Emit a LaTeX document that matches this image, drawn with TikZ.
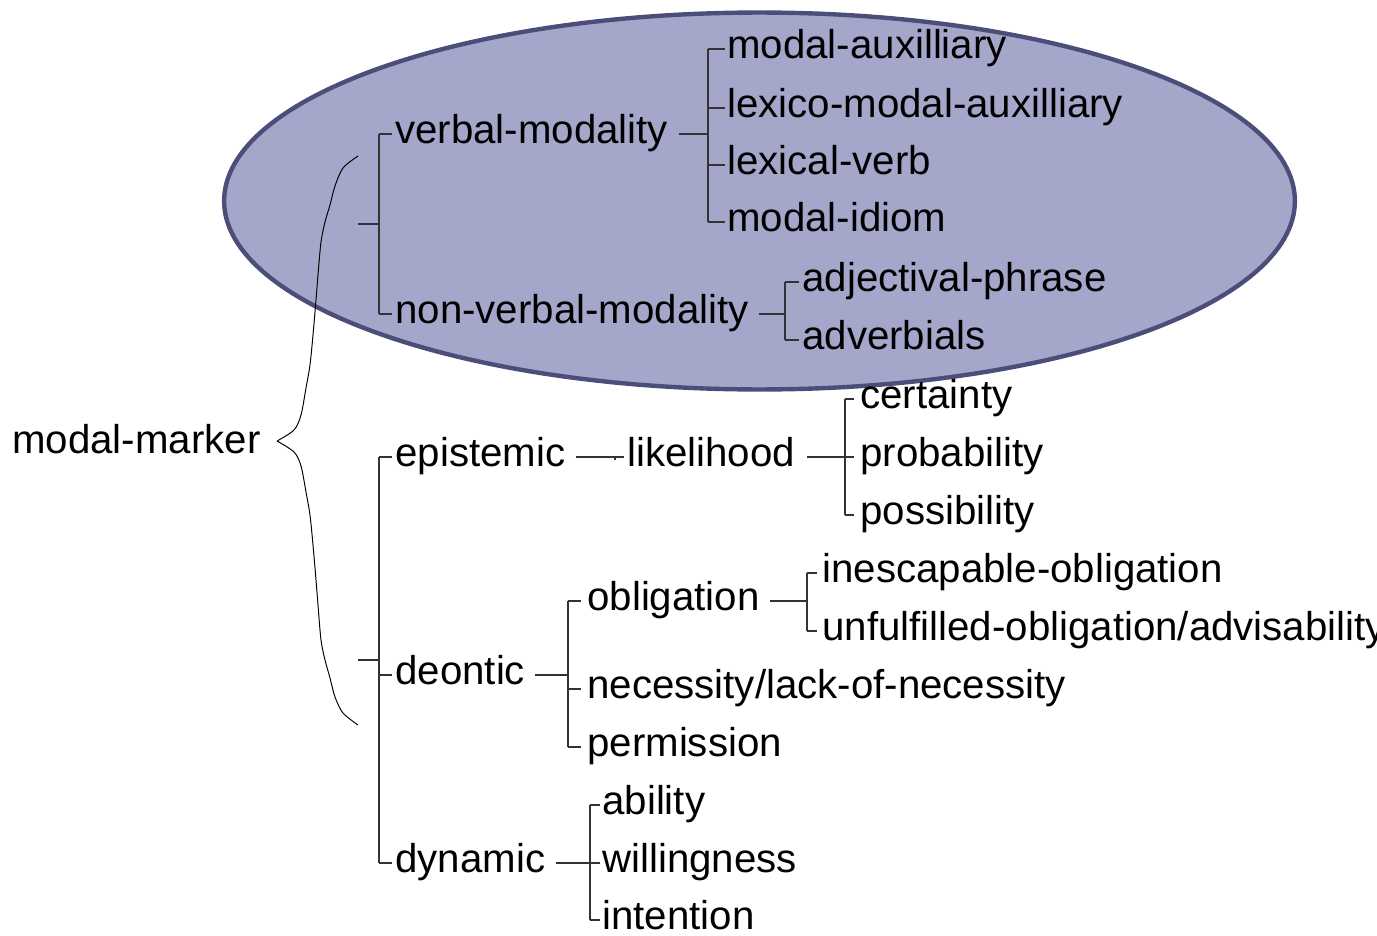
\documentclass[tikz,border=0pt]{standalone}
\usepackage{fontspec}
\setmainfont{Liberation Sans}
\usetikzlibrary{calc}
\definecolor{ellfill}{RGB}{164,166,202}
\definecolor{elldraw}{RGB}{76,78,122}
\begin{document}
\begin{tikzpicture}[x=0.02cm,y=-0.02cm,
  lbl/.style={anchor=west, inner sep=0pt, text height=10.6pt, text depth=0pt,
    font=\fontsize{22.9pt}{26pt}\selectfont},
  conn/.style={draw=black!80, line width=0.7pt},
  bracecurve/.style={draw=black, line width=0.55pt}]
\useasboundingbox (0,0) rectangle (1377,936);
% ellipse
\draw[fill=ellfill, draw=elldraw, line width=2.5pt] (759.5,201) ellipse [x radius=10.71cm, y radius=3.77cm];
% nodes
\node[lbl] (mm) at (12,444) {modal-marker};
\node[lbl] (vm) at (395,134) {verbal-modality};
\node[lbl] (nvm) at (395,314) {non-verbal-modality};
\node[lbl] (ma) at (727,49) {modal-auxilliary};
\node[lbl] (lma) at (727,108) {lexico-modal-auxilliary};
\node[lbl] (lv) at (727,165) {lexical-verb};
\node[lbl] (mi) at (727,222) {modal-idiom};
\node[lbl] (ap) at (802,282) {adjectival-phrase};
\node[lbl] (adv) at (802,340) {adverbials};
\node[lbl] (ep) at (395,457) {epistemic};
\node[lbl] (lh) at (627,457) {likelihood};
\node[lbl] (ce) at (860,399) {certainty};
\node[lbl] (pr) at (860,457) {probability};
\node[lbl] (po) at (860,515) {possibility};
\node[lbl] (de) at (395,675) {deontic};
\node[lbl] (ob) at (587,601) {obligation};
\node[lbl] (io) at (822,573) {inescapable-obligation};
\node[lbl] (uo) at (822,631) {unfulfilled-obligation/advisability};
\node[lbl] (ne) at (587,689) {necessity/lack-of-necessity};
\node[lbl] (pe) at (587,747) {permission};
\node[lbl] (dy) at (395,863) {dynamic};
\node[lbl] (ab) at (602,805) {ability};
\node[lbl] (wi) at (602,863) {willingness};
\node[lbl] (in) at (602,920) {intention};
% vertical bracket positions
\coordinate (vr) at (379,0);
\coordinate (vvm) at (708,0);
\coordinate (vnvm) at (785,0);
\coordinate (vep) at (615,0);
\coordinate (vlh) at (845,0);
\coordinate (vde) at (568,0);
\coordinate (vob) at (807,0);
\coordinate (vdy) at (590,0);
\coordinate (bt) at (358,224);
\coordinate (bb) at (358,660);
% root brackets
\draw[conn] (bt) -- (vr |- bt);
\draw[conn] (vr |- vm) -- (vr |- nvm);
\foreach \c in {vm,nvm} \draw[conn] (vr |- \c) -- ($(\c.west)+(-3,0)$);
\draw[conn] (bb) -- (vr |- bb);
\draw[conn] (vr |- ep) -- (vr |- dy);
\foreach \c in {ep,de,dy} \draw[conn] (vr |- \c) -- ($(\c.west)+(-3,0)$);
% verbal-modality
\draw[conn] ($(vm.east)+(10,0)$) -- (vvm |- vm);
\draw[conn] (vvm |- ma) -- (vvm |- mi);
\foreach \c in {ma,lma,lv,mi} \draw[conn] (vvm |- \c) -- ($(\c.west)+(-2,0)$);
% non-verbal-modality
\draw[conn] ($(nvm.east)+(10,0)$) -- (vnvm |- nvm);
\draw[conn] (vnvm |- ap) -- (vnvm |- adv);
\foreach \c in {ap,adv} \draw[conn] (vnvm |- \c) -- ($(\c.west)+(-3,0)$);
% epistemic
\draw[conn] ($(ep.east)+(10,0)$) -- (vep |- ep);
\draw[conn] (vep |- lh) -- ($(lh.west)+(-3,0)$);
\draw[conn] (vep |- lh) -- ++(0,3);
% likelihood
\draw[conn] ($(lh.east)+(12,0)$) -- (vlh |- lh);
\draw[conn] (vlh |- ce) -- (vlh |- po);
\foreach \c in {ce,pr,po} \draw[conn] (vlh |- \c) -- ($(\c.west)+(-6,0)$);
% deontic
\draw[conn] ($(de.east)+(10,0)$) -- (vde |- de);
\draw[conn] (vde |- ob) -- (vde |- pe);
\foreach \c in {ob,ne,pe} \draw[conn] (vde |- \c) -- ($(\c.west)+(-6,0)$);
% obligation
\draw[conn] ($(ob.east)+(10,0)$) -- (vob |- ob);
\draw[conn] (vob |- io) -- (vob |- uo);
\foreach \c in {io,uo} \draw[conn] (vob |- \c) -- ($(\c.west)+(-5,0)$);
% dynamic
\draw[conn] ($(dy.east)+(10,0)$) -- (vdy |- dy);
\draw[conn] (vdy |- ab) -- (vdy |- in);
\foreach \c in {ab,wi,in} \draw[conn] (vdy |- \c) -- ($(\c.west)+(-2,0)$);
% brace
\draw[bracecurve] plot[smooth, tension=0.5] coordinates {(358,156) (343,168) (335,186) (330,205) (325,222) (321,242) (318,275) (316,300) (313,335) (310,365) (306,388) (301,415) (294,430) (277,441)};
\draw[bracecurve] plot[smooth, tension=0.5] coordinates {(277,441) (294,452) (301,466) (306,492) (310,515) (313,545) (316,580) (318,605) (321,640) (325,660) (330,678) (335,697) (343,713) (358,725)};
\end{tikzpicture}
\end{document}
